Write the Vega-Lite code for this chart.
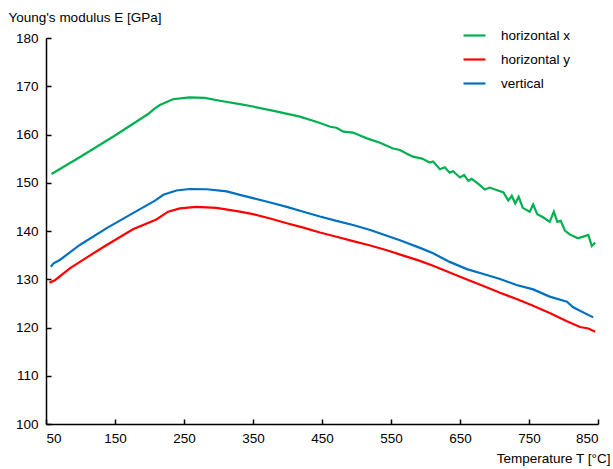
{
  "$schema": "https://vega.github.io/schema/vega-lite/v6.json",
  "width": 552,
  "height": 386,
  "autosize": {"type": "none"},
  "padding": {"left": 46, "top": 38, "right": 15, "bottom": 45},
  "background": "white",
  "config": {
    "view": {"stroke": null},
    "font": "Liberation Sans",
    "axis": {"labelFont": "Liberation Sans", "titleFont": "Liberation Sans", "labelFontSize": 13.5, "titleFontSize": 13.5, "labelColor": "black", "titleColor": "black", "titleFontWeight": "normal", "domainColor": "black", "tickColor": "black", "domainWidth": 1.5, "tickWidth": 1.5, "grid": false},
    "legend": {"labelFont": "Liberation Sans", "labelFontSize": 13.5, "labelColor": "black"}
  },
  "data": {"values": [
    {"T": 58, "E": 151.8, "s": "horizontal x"},
    {"T": 100, "E": 155.4, "s": "horizontal x"},
    {"T": 150, "E": 159.8, "s": "horizontal x"},
    {"T": 198, "E": 164.25, "s": "horizontal x"},
    {"T": 206, "E": 165.2, "s": "horizontal x"},
    {"T": 215, "E": 166.1, "s": "horizontal x"},
    {"T": 234, "E": 167.3, "s": "horizontal x"},
    {"T": 258, "E": 167.7, "s": "horizontal x"},
    {"T": 280, "E": 167.6, "s": "horizontal x"},
    {"T": 302, "E": 167.0, "s": "horizontal x"},
    {"T": 331, "E": 166.3, "s": "horizontal x"},
    {"T": 346, "E": 165.9, "s": "horizontal x"},
    {"T": 380, "E": 164.9, "s": "horizontal x"},
    {"T": 418, "E": 163.7, "s": "horizontal x"},
    {"T": 445, "E": 162.5, "s": "horizontal x"},
    {"T": 462, "E": 161.6, "s": "horizontal x"},
    {"T": 471, "E": 161.4, "s": "horizontal x"},
    {"T": 481, "E": 160.6, "s": "horizontal x"},
    {"T": 495, "E": 160.4, "s": "horizontal x"},
    {"T": 515, "E": 159.2, "s": "horizontal x"},
    {"T": 534, "E": 158.3, "s": "horizontal x"},
    {"T": 553, "E": 157.1, "s": "horizontal x"},
    {"T": 563, "E": 156.8, "s": "horizontal x"},
    {"T": 573, "E": 156.0, "s": "horizontal x"},
    {"T": 582, "E": 155.4, "s": "horizontal x"},
    {"T": 595, "E": 155.0, "s": "horizontal x"},
    {"T": 606, "E": 154.2, "s": "horizontal x"},
    {"T": 611, "E": 154.4, "s": "horizontal x"},
    {"T": 621, "E": 152.8, "s": "horizontal x"},
    {"T": 628, "E": 153.2, "s": "horizontal x"},
    {"T": 635, "E": 152.1, "s": "horizontal x"},
    {"T": 640, "E": 152.4, "s": "horizontal x"},
    {"T": 650, "E": 151.1, "s": "horizontal x"},
    {"T": 656, "E": 151.6, "s": "horizontal x"},
    {"T": 662, "E": 150.4, "s": "horizontal x"},
    {"T": 667, "E": 150.8, "s": "horizontal x"},
    {"T": 677, "E": 149.7, "s": "horizontal x"},
    {"T": 686, "E": 148.6, "s": "horizontal x"},
    {"T": 693, "E": 149.0, "s": "horizontal x"},
    {"T": 713, "E": 148.0, "s": "horizontal x"},
    {"T": 720, "E": 146.3, "s": "horizontal x"},
    {"T": 725, "E": 147.3, "s": "horizontal x"},
    {"T": 730, "E": 145.7, "s": "horizontal x"},
    {"T": 735, "E": 147.1, "s": "horizontal x"},
    {"T": 741, "E": 144.8, "s": "horizontal x"},
    {"T": 751, "E": 144.0, "s": "horizontal x"},
    {"T": 756, "E": 145.5, "s": "horizontal x"},
    {"T": 762, "E": 143.5, "s": "horizontal x"},
    {"T": 771, "E": 142.8, "s": "horizontal x"},
    {"T": 780, "E": 141.9, "s": "horizontal x"},
    {"T": 786, "E": 144.0, "s": "horizontal x"},
    {"T": 791, "E": 141.9, "s": "horizontal x"},
    {"T": 796, "E": 142.1, "s": "horizontal x"},
    {"T": 802, "E": 140.1, "s": "horizontal x"},
    {"T": 809, "E": 139.3, "s": "horizontal x"},
    {"T": 821, "E": 138.5, "s": "horizontal x"},
    {"T": 836, "E": 139.2, "s": "horizontal x"},
    {"T": 841, "E": 136.9, "s": "horizontal x"},
    {"T": 846, "E": 137.6, "s": "horizontal x"},

    {"T": 55, "E": 129.3, "s": "horizontal y"},
    {"T": 63, "E": 129.8, "s": "horizontal y"},
    {"T": 85, "E": 132.3, "s": "horizontal y"},
    {"T": 110, "E": 134.6, "s": "horizontal y"},
    {"T": 138, "E": 137.1, "s": "horizontal y"},
    {"T": 176, "E": 140.35, "s": "horizontal y"},
    {"T": 210, "E": 142.4, "s": "horizontal y"},
    {"T": 227, "E": 144.0, "s": "horizontal y"},
    {"T": 244, "E": 144.7, "s": "horizontal y"},
    {"T": 268, "E": 145.0, "s": "horizontal y"},
    {"T": 297, "E": 144.8, "s": "horizontal y"},
    {"T": 331, "E": 144.0, "s": "horizontal y"},
    {"T": 350, "E": 143.5, "s": "horizontal y"},
    {"T": 375, "E": 142.6, "s": "horizontal y"},
    {"T": 399, "E": 141.6, "s": "horizontal y"},
    {"T": 423, "E": 140.7, "s": "horizontal y"},
    {"T": 447, "E": 139.7, "s": "horizontal y"},
    {"T": 471, "E": 138.8, "s": "horizontal y"},
    {"T": 495, "E": 137.9, "s": "horizontal y"},
    {"T": 520, "E": 137.0, "s": "horizontal y"},
    {"T": 544, "E": 136.0, "s": "horizontal y"},
    {"T": 568, "E": 134.9, "s": "horizontal y"},
    {"T": 592, "E": 133.8, "s": "horizontal y"},
    {"T": 611, "E": 132.8, "s": "horizontal y"},
    {"T": 635, "E": 131.4, "s": "horizontal y"},
    {"T": 660, "E": 129.95, "s": "horizontal y"},
    {"T": 684, "E": 128.6, "s": "horizontal y"},
    {"T": 708, "E": 127.2, "s": "horizontal y"},
    {"T": 732, "E": 125.9, "s": "horizontal y"},
    {"T": 756, "E": 124.5, "s": "horizontal y"},
    {"T": 780, "E": 123.0, "s": "horizontal y"},
    {"T": 805, "E": 121.3, "s": "horizontal y"},
    {"T": 824, "E": 120.1, "s": "horizontal y"},
    {"T": 836, "E": 119.8, "s": "horizontal y"},
    {"T": 846, "E": 119.1, "s": "horizontal y"},

    {"T": 57, "E": 132.6, "s": "vertical"},
    {"T": 61, "E": 133.3, "s": "vertical"},
    {"T": 70, "E": 134.0, "s": "vertical"},
    {"T": 99, "E": 137.1, "s": "vertical"},
    {"T": 138, "E": 140.6, "s": "vertical"},
    {"T": 176, "E": 143.7, "s": "vertical"},
    {"T": 208, "E": 146.3, "s": "vertical"},
    {"T": 220, "E": 147.5, "s": "vertical"},
    {"T": 239, "E": 148.4, "s": "vertical"},
    {"T": 258, "E": 148.7, "s": "vertical"},
    {"T": 283, "E": 148.65, "s": "vertical"},
    {"T": 312, "E": 148.2, "s": "vertical"},
    {"T": 331, "E": 147.5, "s": "vertical"},
    {"T": 350, "E": 146.8, "s": "vertical"},
    {"T": 375, "E": 145.9, "s": "vertical"},
    {"T": 399, "E": 145.0, "s": "vertical"},
    {"T": 423, "E": 144.0, "s": "vertical"},
    {"T": 447, "E": 143.0, "s": "vertical"},
    {"T": 471, "E": 142.1, "s": "vertical"},
    {"T": 495, "E": 141.25, "s": "vertical"},
    {"T": 520, "E": 140.2, "s": "vertical"},
    {"T": 544, "E": 139.0, "s": "vertical"},
    {"T": 563, "E": 138.1, "s": "vertical"},
    {"T": 592, "E": 136.5, "s": "vertical"},
    {"T": 611, "E": 135.4, "s": "vertical"},
    {"T": 635, "E": 133.6, "s": "vertical"},
    {"T": 660, "E": 132.1, "s": "vertical"},
    {"T": 684, "E": 131.1, "s": "vertical"},
    {"T": 708, "E": 130.05, "s": "vertical"},
    {"T": 732, "E": 128.8, "s": "vertical"},
    {"T": 756, "E": 127.9, "s": "vertical"},
    {"T": 780, "E": 126.4, "s": "vertical"},
    {"T": 805, "E": 125.35, "s": "vertical"},
    {"T": 814, "E": 124.2, "s": "vertical"},
    {"T": 843, "E": 122.1, "s": "vertical"}
  ]},
  "mark": {"type": "line", "strokeWidth": 2.2, "interpolate": "linear"},
  "encoding": {
    "x": {"field": "T", "type": "quantitative",
      "scale": {"domain": [50, 850], "nice": false, "zero": false},
      "axis": {"values": [50, 150, 250, 350, 450, 550, 650, 750, 850], "tickSize": -5, "labelPadding": 12, "title": "Temperature T [°C]", "titleAlign": "right", "titleAnchor": "end", "titleX": 564, "titleY": 34, "titleBaseline": "middle"}},
    "y": {"field": "E", "type": "quantitative",
      "scale": {"domain": [100, 180], "nice": false, "zero": false},
      "axis": {"values": [100, 110, 120, 130, 140, 150, 160, 170, 180], "tickSize": -5, "labelPadding": 13, "title": "Young's modulus E [GPa]", "titleAngle": 0, "titleAlign": "left", "titleX": -38, "titleY": -21, "titleBaseline": "middle"}},
    "color": {"field": "s", "type": "nominal",
      "scale": {"domain": ["horizontal x", "horizontal y", "vertical"], "range": ["#00b050", "#ff0000", "#0070c0"]},
      "legend": {"title": null, "orient": "none", "legendX": 416, "legendY": -15, "symbolType": "stroke", "symbolSize": 484, "symbolStrokeWidth": 2.2, "rowPadding": 5, "labelOffset": 14}}
  }
}
